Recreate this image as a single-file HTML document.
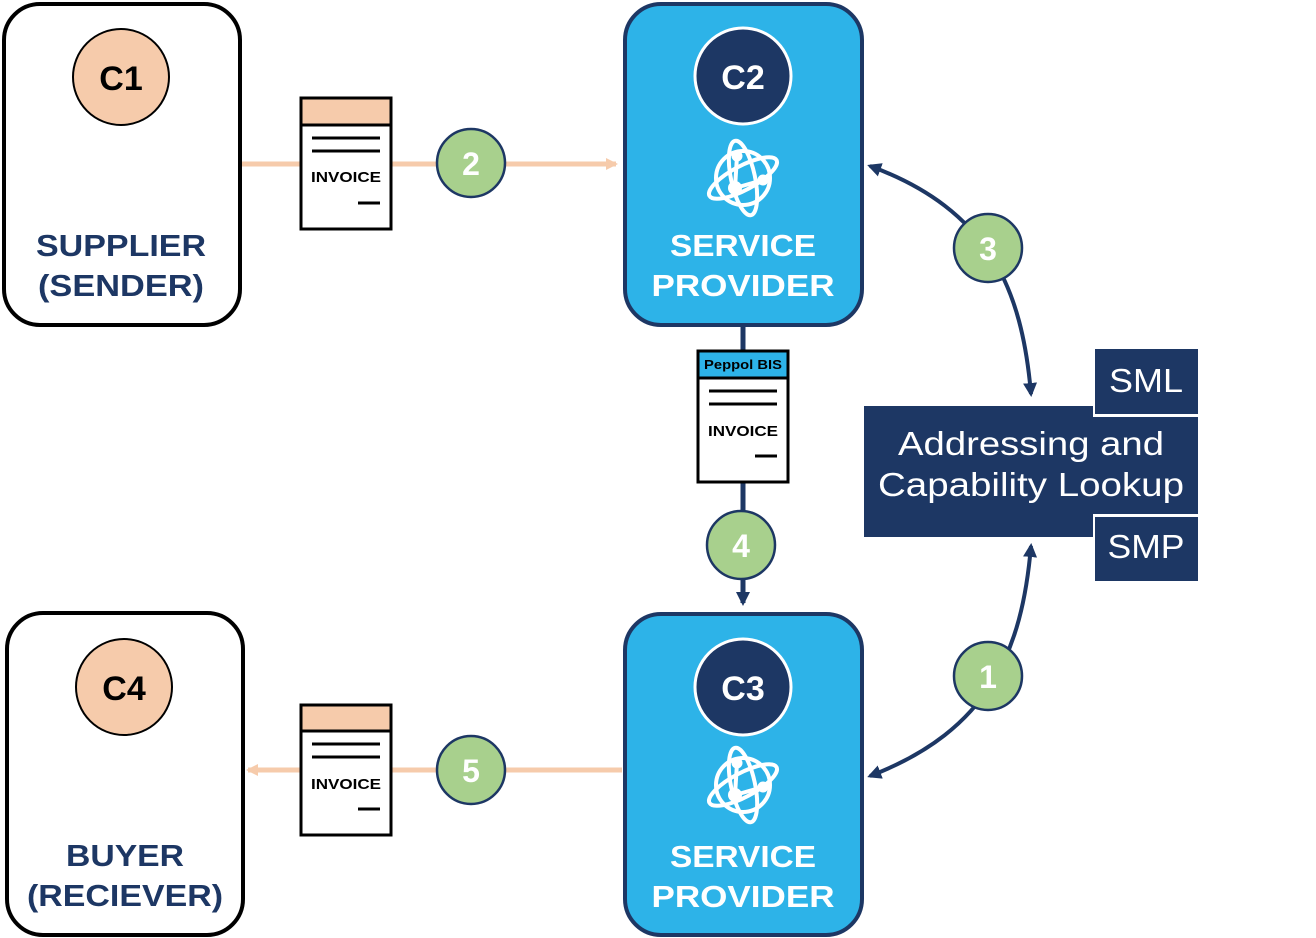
<!DOCTYPE html>
<html><head><style>
html,body{margin:0;padding:0;background:#fff;}
svg{display:block;font-family:"Liberation Sans",sans-serif;}
</style></head><body>
<svg width="1316" height="938" viewBox="0 0 1316 938" xmlns="http://www.w3.org/2000/svg">
<defs>
<marker id="ao" markerWidth="12" markerHeight="12" refX="10" refY="6" orient="auto" markerUnits="userSpaceOnUse"><path d="M0,0 L12,6 L0,12 z" fill="#f6cbab"/></marker>
<marker id="an" markerWidth="14" markerHeight="14" refX="11" refY="7" orient="auto-start-reverse" markerUnits="userSpaceOnUse"><path d="M0,0 L14,7 L0,14 z" fill="#1d3764"/></marker>
<g id="globe" fill="none" stroke="#fff" stroke-width="4">
<circle cx="0" cy="0" r="27"/>
<ellipse cx="0" cy="0" rx="38" ry="12" transform="rotate(-28)"/>
<ellipse cx="0" cy="0" rx="38" ry="12" transform="rotate(78)"/>
<line x1="-8" y1="10" x2="-6" y2="-22"/><line x1="-8" y1="10" x2="20" y2="2"/>
<circle cx="-8" cy="10" r="5" fill="#fff"/><circle cx="-6" cy="-22" r="3.5" fill="#fff"/><circle cx="20" cy="2" r="3.5" fill="#fff"/>
</g>
</defs>

<line x1="240" y1="164" x2="616" y2="164" stroke="#f6cbab" stroke-width="5" marker-end="url(#ao)"/>
<line x1="622" y1="770" x2="248" y2="770" stroke="#f6cbab" stroke-width="5" marker-end="url(#ao)"/>
<line x1="743" y1="325" x2="743" y2="603" stroke="#1d3764" stroke-width="5" marker-end="url(#an)"/>
<path d="M1031,394 C1022,290 990,210 870,166" fill="none" stroke="#1d3764" stroke-width="4" marker-start="url(#an)" marker-end="url(#an)"/>
<path d="M1031,546 C1022,650 990,730 870,776" fill="none" stroke="#1d3764" stroke-width="4" marker-start="url(#an)" marker-end="url(#an)"/>

<rect x="4" y="4" width="236" height="321" rx="36" fill="#fff" stroke="#000" stroke-width="4"/>
<circle cx="121" cy="77" r="48" fill="#f6cbab" stroke="#000" stroke-width="2"/>
<text x="121" y="90" font-size="34" font-weight="bold" text-anchor="middle">C1</text>
<text x="121" y="256" font-size="31" font-weight="bold" fill="#1d3764" text-anchor="middle" textLength="170" lengthAdjust="spacingAndGlyphs">SUPPLIER</text>
<text x="121" y="296" font-size="31" font-weight="bold" fill="#1d3764" text-anchor="middle" textLength="166" lengthAdjust="spacingAndGlyphs">(SENDER)</text>

<rect x="7" y="613" width="236" height="322" rx="36" fill="#fff" stroke="#000" stroke-width="4"/>
<circle cx="124" cy="687" r="48" fill="#f6cbab" stroke="#000" stroke-width="2"/>
<text x="124" y="700" font-size="34" font-weight="bold" text-anchor="middle">C4</text>
<text x="125" y="866" font-size="31" font-weight="bold" fill="#1d3764" text-anchor="middle" textLength="118" lengthAdjust="spacingAndGlyphs">BUYER</text>
<text x="125" y="906" font-size="31" font-weight="bold" fill="#1d3764" text-anchor="middle" textLength="196" lengthAdjust="spacingAndGlyphs">(RECIEVER)</text>

<rect x="625" y="4" width="237" height="321" rx="36" fill="#2db3e8" stroke="#1d3764" stroke-width="4"/>
<circle cx="743" cy="76" r="48" fill="#1d3764" stroke="#fff" stroke-width="3"/>
<text x="743" y="89" font-size="34" font-weight="bold" fill="#fff" text-anchor="middle">C2</text>
<use href="#globe" x="743" y="178"/>
<text x="743" y="256" font-size="31" font-weight="bold" fill="#fff" text-anchor="middle" textLength="146" lengthAdjust="spacingAndGlyphs">SERVICE</text>
<text x="743" y="296" font-size="31" font-weight="bold" fill="#fff" text-anchor="middle" textLength="183" lengthAdjust="spacingAndGlyphs">PROVIDER</text>

<rect x="625" y="614" width="237" height="321" rx="36" fill="#2db3e8" stroke="#1d3764" stroke-width="4"/>
<circle cx="743" cy="687" r="48" fill="#1d3764" stroke="#fff" stroke-width="3"/>
<text x="743" y="700" font-size="34" font-weight="bold" fill="#fff" text-anchor="middle">C3</text>
<use href="#globe" x="743" y="785"/>
<text x="743" y="867" font-size="31" font-weight="bold" fill="#fff" text-anchor="middle" textLength="146" lengthAdjust="spacingAndGlyphs">SERVICE</text>
<text x="743" y="907" font-size="31" font-weight="bold" fill="#fff" text-anchor="middle" textLength="183" lengthAdjust="spacingAndGlyphs">PROVIDER</text>

<g stroke="#000" stroke-width="3">
<rect x="301" y="98" width="90" height="131" fill="#fff"/>
<rect x="301" y="98" width="90" height="27" fill="#f6cbab"/>
<line x1="312" y1="138" x2="380" y2="138"/><line x1="312" y1="151" x2="380" y2="151"/><line x1="358" y1="203" x2="380" y2="203"/>
<rect x="301" y="705" width="90" height="130" fill="#fff"/>
<rect x="301" y="705" width="90" height="26" fill="#f6cbab"/>
<line x1="312" y1="744" x2="380" y2="744"/><line x1="312" y1="757" x2="380" y2="757"/><line x1="358" y1="809" x2="380" y2="809"/>
<rect x="698" y="351" width="90" height="131" fill="#fff"/>
<rect x="698" y="351" width="90" height="27" fill="#2db3e8"/>
<line x1="709" y1="391" x2="777" y2="391"/><line x1="709" y1="404" x2="777" y2="404"/><line x1="755" y1="456" x2="777" y2="456"/>
</g>
<text x="346" y="182" font-size="15" font-weight="bold" text-anchor="middle" textLength="70" lengthAdjust="spacingAndGlyphs">INVOICE</text>
<text x="346" y="789" font-size="15" font-weight="bold" text-anchor="middle" textLength="70" lengthAdjust="spacingAndGlyphs">INVOICE</text>
<text x="743" y="436" font-size="15" font-weight="bold" text-anchor="middle" textLength="70" lengthAdjust="spacingAndGlyphs">INVOICE</text>
<text x="743" y="369" font-size="13" font-weight="bold" text-anchor="middle" textLength="78" lengthAdjust="spacingAndGlyphs">Peppol BIS</text>

<g fill="#a8d08d" stroke="#1d3764" stroke-width="2.5">
<circle cx="471" cy="163" r="34"/><circle cx="471" cy="770" r="34"/>
<circle cx="741" cy="545" r="34"/><circle cx="988" cy="248" r="34"/><circle cx="988" cy="676" r="34"/>
</g>
<g fill="#fff" font-size="32" font-weight="bold" text-anchor="middle">
<text x="471" y="175">2</text><text x="471" y="782">5</text><text x="741" y="557">4</text>
<text x="988" y="260">3</text><text x="988" y="688">1</text>
</g>

<rect x="864" y="406" width="229" height="131" fill="#1d3764"/>
<rect x="1093" y="417" width="105" height="97" fill="#1d3764"/>
<rect x="1095" y="349" width="103" height="65" fill="#1d3764"/>
<rect x="1095" y="517" width="103" height="64" fill="#1d3764"/>
<g fill="#fff" font-size="33" text-anchor="middle">
<text x="1031" y="455" textLength="266" lengthAdjust="spacingAndGlyphs">Addressing and</text>
<text x="1031" y="496" textLength="306" lengthAdjust="spacingAndGlyphs">Capability Lookup</text>
<text x="1146" y="392" textLength="74" lengthAdjust="spacingAndGlyphs">SML</text>
<text x="1146" y="558" textLength="77" lengthAdjust="spacingAndGlyphs">SMP</text>
</g>
</svg>
</body></html>
